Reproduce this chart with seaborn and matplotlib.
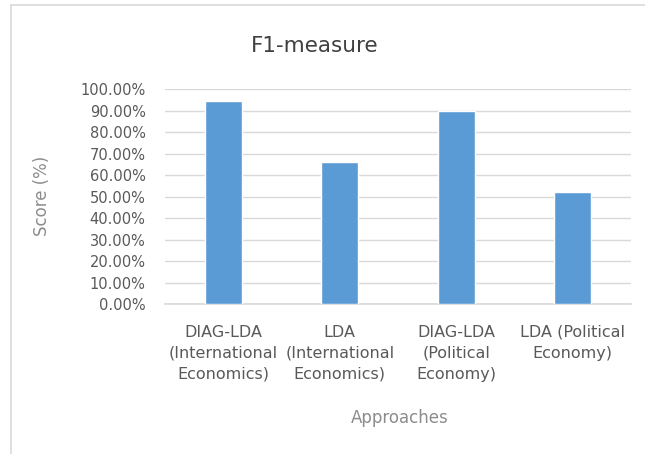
import matplotlib
matplotlib.use("Agg")
import matplotlib.pyplot as plt
from matplotlib.ticker import FuncFormatter
import seaborn as sns
import pandas as pd

# Data
approaches = [
    "DIAG-LDA\n(International\nEconomics)",
    "LDA\n(International\nEconomics)",
    "DIAG-LDA\n(Political\nEconomy)",
    "LDA (Political\nEconomy)",
]
f1_scores = [0.945, 0.660, 0.900, 0.520]
y_ticks = [0.0, 0.1, 0.2, 0.3, 0.4, 0.5, 0.6, 0.7, 0.8, 0.9, 1.0]

df = pd.DataFrame({"Approaches": approaches, "Score": f1_scores})

sns.set_theme(style="white")
plt.rcParams["font.family"] = ["DejaVu Sans"]

W, H = 645, 454
fig = plt.figure(figsize=(W / 100, H / 100), dpi=100)
ax = fig.add_axes([165 / W, 1 - 304 / H, (631 - 165) / W, (304 - 89.3) / H])

sns.barplot(data=df, x="Approaches", y="Score", color="#5B9BD5",
            saturation=1, width=0.32, ax=ax, zorder=3)

ax.set_ylim(0, 1.0)
ax.set_yticks(y_ticks)
ax.yaxis.set_major_formatter(FuncFormatter(lambda v, _: f"{v * 100:.2f}%"))
ax.grid(axis="y", color="#D9D9D9", linewidth=1, zorder=0)
ax.set_axisbelow(True)
for s in ["top", "right", "left"]:
    ax.spines[s].set_visible(False)
ax.spines["bottom"].set_color("#D9D9D9")

ax.tick_params(axis="y", length=0, pad=14, labelsize=10.5, labelcolor="#595959")
ax.tick_params(axis="x", length=0, pad=15, labelsize=11.5, labelcolor="#595959")
for lbl in ax.get_xticklabels():
    lbl.set_linespacing(1.5)
    lbl.set_verticalalignment("top")

ax.set_xlabel("")
ax.set_ylabel("")
fig.text(400 / W, 1 - 418 / H, "Approaches", ha="center", va="center",
         fontsize=12, color="#8C8C8C")
fig.text(42 / W, 1 - 196 / H, "Score (%)", ha="center", va="center",
         rotation=90, fontsize=12, color="#8C8C8C")
fig.text(315 / W, 1 - 46 / H, "F1-measure", ha="center", va="center",
         fontsize=15.5, color="#404040")

# chart frame lines
fig.add_artist(plt.Line2D([11 / W, 11 / W], [0, 1 - 5 / H], color="#D9D9D9", lw=1.2))
fig.add_artist(plt.Line2D([11 / W, 1], [1 - 5 / H, 1 - 5 / H], color="#D9D9D9", lw=1.2))

fig.savefig("out.png", dpi=100)
